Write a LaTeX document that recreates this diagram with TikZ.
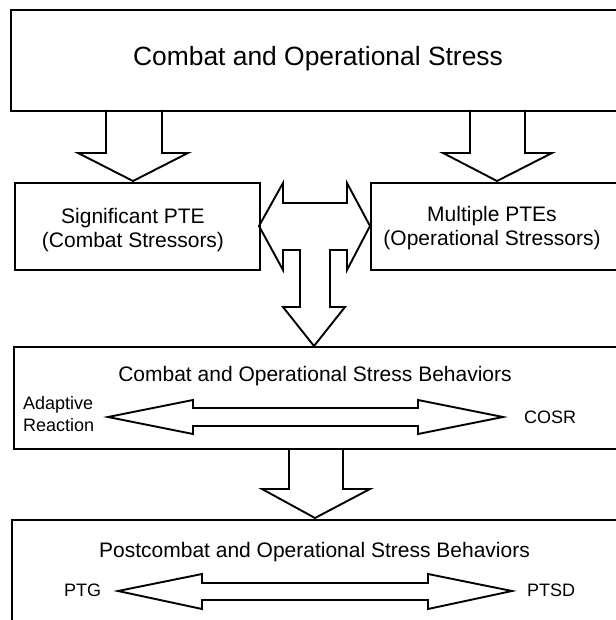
\documentclass[tikz,border=0pt]{standalone}
\usepackage{fontspec}
\setmainfont{Liberation Sans}
\begin{document}
\begin{tikzpicture}[x=1pt,y=-1pt,
  box/.style={draw, line width=1.9pt, inner sep=0pt, anchor=north west},
  blockarrow/.style={draw, line width=1.9pt, line join=miter},
  lbl/.style={inner sep=0pt, text=black},
  bigfont/.style={font=\fontsize{26.4}{30}\selectfont},
  midfont/.style={font=\fontsize{21}{24}\selectfont},
  smallfont/.style={font=\fontsize{18}{21.8}\selectfont}]
\useasboundingbox (0,0) rectangle (615,620);

% boxes
\node[box, minimum width=607pt, minimum height=101pt] (stress) at (10,9) {};
\node[box, minimum width=245pt, minimum height=87pt] (sig) at (14,182) {};
\node[box, minimum width=247pt, minimum height=87pt] (mult) at (370,182) {};
\node[box, minimum width=604pt, minimum height=102pt] (cosb) at (13,346) {};
\node[box, minimum width=606pt, minimum height=100.5pt] (pcosb) at (11,519) {};

% texts
\node[lbl, bigfont, anchor=base] (t1) at (318,66) {Combat and Operational Stress};
\node[lbl, midfont, anchor=base] (t2) at (133,223)
  {\begin{tabular}[t]{@{}c@{}}Significant PTE\\(Combat Stressors)\end{tabular}};
\node[lbl, midfont, anchor=base] (t3) at (492,222)
  {\begin{tabular}[t]{@{}c@{}}Multiple PTEs\\(Operational Stressors)\end{tabular}};
\node[lbl, midfont, anchor=base] (t4) at (315,381) {Combat and Operational Stress Behaviors};
\node[lbl, smallfont, anchor=base west] (t5) at (23,409.5)
  {\begin{tabular}[t]{@{}l@{}}Adaptive\\Reaction\end{tabular}};
\node[lbl, smallfont, anchor=base west] (t6) at (524,423) {COSR};
\node[lbl, midfont, anchor=base] (t7) at (314.5,557) {Postcombat and Operational Stress Behaviors};
\node[lbl, smallfont, anchor=base west] (t8) at (64,596) {PTG};
\node[lbl, smallfont, anchor=base west] (t9) at (527,596) {PTSD};

% block arrows
\draw[blockarrow] (106,110) -- (106,153) -- (78,153) -- (133,181) -- (188,153)
  -- (162,153) -- (162,110);
\draw[blockarrow] (470,110) -- (470,153) -- (443,153) -- (497,181) -- (552,153)
  -- (525,153) -- (525,110);
\draw[blockarrow] (259,226) -- (283,183) -- (283,203) -- (347,203) -- (347,183)
  -- (370,226) -- (347,270) -- (347,250) -- (330,250) -- (330,307) -- (345,307)
  -- (314,346) -- (283,307) -- (300,307) -- (300,250) -- (283,250) -- (283,270) -- cycle;
\draw[blockarrow] (108,417) -- (193,400) -- (193,408) -- (418,408) -- (418,400)
  -- (503,417) -- (418,434) -- (418,426) -- (193,426) -- (193,434) -- cycle;
\draw[blockarrow] (289,448) -- (289,489) -- (262,489) -- (315,518) -- (370,489)
  -- (343,489) -- (343,448);
\draw[blockarrow] (118,591) -- (202,574) -- (202,583) -- (428,583) -- (428,574)
  -- (512,591) -- (428,609) -- (428,600) -- (202,600) -- (202,609) -- cycle;
\end{tikzpicture}
\end{document}
